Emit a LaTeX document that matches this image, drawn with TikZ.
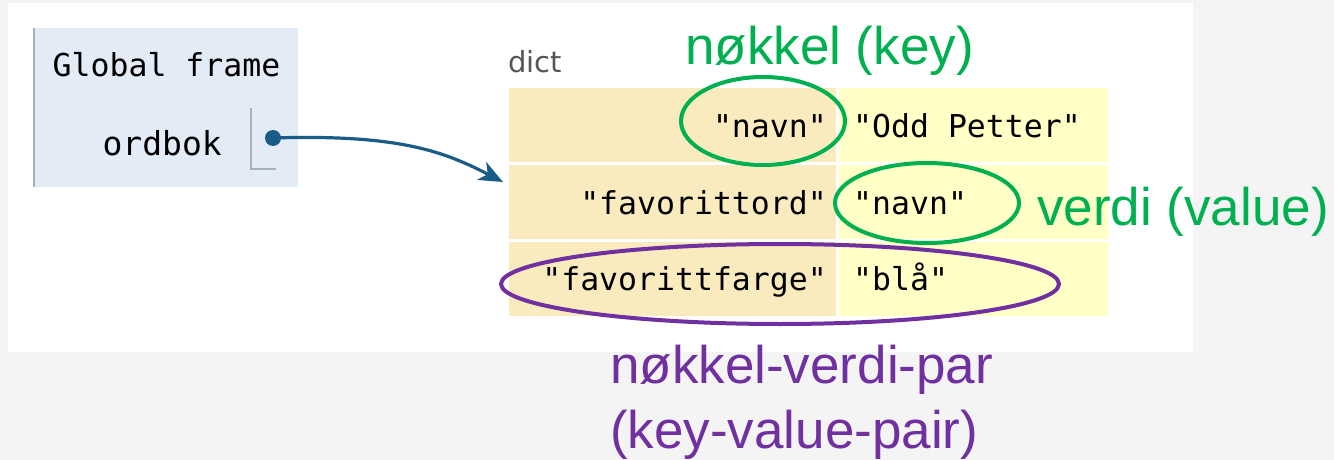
\documentclass[tikz,border=0pt]{standalone}
\usepackage{fontspec}
\setmainfont{Liberation Sans}
\newfontfamily\monof{DejaVu Sans Mono}
\newfontfamily\dvs{DejaVu Sans}
\usetikzlibrary{arrows.meta,shapes.geometric}
\definecolor{pagebg}{HTML}{F4F4F4}
\definecolor{framebg}{HTML}{E2EBF6}
\definecolor{frameedge}{HTML}{A6B3B6}
\definecolor{keybg}{HTML}{FAEBBF}
\definecolor{valbg}{HTML}{FFFFC6}
\definecolor{ptrblue}{HTML}{1A5C88}
\definecolor{annogreen}{HTML}{00B050}
\definecolor{annopurple}{HTML}{7030A0}
\definecolor{dictgray}{HTML}{555555}
\tikzset{
  cellkey/.style={fill=keybg, draw=none},
  cellval/.style={fill=valbg, draw=none},
  monotext/.style={inner sep=0pt, font=\monof\fontsize{31.5}{36}\selectfont},
  annotext/.style={inner sep=0pt, font=\fontsize{53}{65}\selectfont},
  ring/.style={ellipse, draw, line width=4pt, inner sep=0pt},
}
\begin{document}
\begin{tikzpicture}[x=1pt,y=-1pt]
\useasboundingbox (0,0) rectangle (1334,460);
\fill[pagebg] (0,0) rectangle (1334,460);
\fill[white] (8,3) rectangle (1193,352);
% global frame
\fill[framebg] (33,28) rectangle (298,187);
\draw[frameedge, line width=2pt] (34,28) -- (34,187);
\node[monotext, anchor=base] (gf) at (166.5,77) {Global frame};
\node[monotext, font=\monof\fontsize{33}{36}\selectfont, anchor=base east] (ord) at (222,155) {ordbok};
\draw[frameedge, line width=1.5pt] (251,108) -- (251,169) -- (276,169);
\node[circle, fill=ptrblue, inner sep=0pt, minimum size=16pt] (ptr) at (273,138) {};
% dict
\node[inner sep=0pt, anchor=base west, text=dictgray, font=\dvs\fontsize{29}{32}\selectfont] (dict) at (508,73) {dict};
\fill[keybg] (509,88) rectangle (836,162);
\fill[valbg] (839,88) rectangle (1108,162);
\fill[keybg] (509,165) rectangle (836,239);
\fill[valbg] (839,165) rectangle (1108,239);
\fill[keybg] (509,242) rectangle (836,316);
\fill[valbg] (839,242) rectangle (1108,316);
\node[monotext, anchor=base east] (k1) at (827,137) {"navn"};
\node[monotext, anchor=base west] (v1) at (853,137) {"Odd Petter"};
\node[monotext, anchor=base east] (k2) at (827,214) {"favorittord"};
\node[monotext, anchor=base west] (v2) at (853,214) {"navn"};
\node[monotext, anchor=base east] (k3) at (827,290) {"favorittfarge"};
\node[monotext, anchor=base west] (v3) at (853,290) {"blå"};
\coordinate (dictin) at (503,182);
\draw[ptrblue, line width=3.2pt, -{Stealth[length=24pt,width=20pt,inset=7pt]}]
  (ptr.center) .. controls (400,134) and (445,152) .. (dictin);
% annotations
\node[ring, draw=annogreen, minimum width=164pt, minimum height=88pt] (ekey) at (763,121) {};
\node[ring, draw=annogreen, minimum width=184pt, minimum height=80pt] (eval) at (927,203) {};
\node[ring, draw=annopurple, minimum width=558pt, minimum height=80pt] (epair) at (780,284) {};
\node[annotext, text=annogreen, anchor=base west] (lkey) at (685,65) {nøkkel (key)};
\node[annotext, text=annogreen, anchor=base west] (lval) at (1037,225) {verdi (value)};
\node[annotext, text=annopurple, anchor=base west] (lpair) at (610,383) {nøkkel-verdi-par};
\node[annotext, text=annopurple, anchor=base west] (lpair2) at (610,448) {(key-value-pair)};
\end{tikzpicture}
\end{document}
